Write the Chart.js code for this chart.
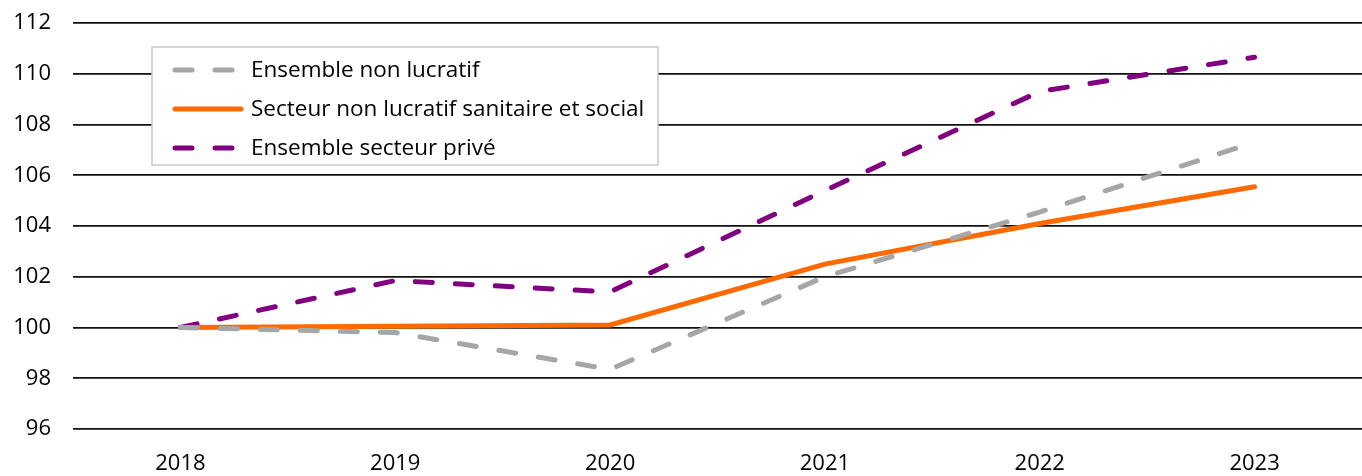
<!DOCTYPE html>
<html>
<head>
<meta charset="utf-8">
<script src="https://cdn.jsdelivr.net/npm/chart.js@4"></script>
<style>
  html, body { margin: 0; padding: 0; background: #fff; }
  #wrap { width: 1362px; height: 476px; }
</style>
</head>
<body>
<div id="wrap"><canvas id="line-chart"></canvas></div>
<script>
const years = ['2018', '2019', '2020', '2021', '2022', '2023'];
const ensembleNonLucratif = [100, 99.8, 98.35, 102.0, 104.55, 107.3];
const secteurSanitaireSocial = [100, 100.05, 100.1, 102.5, 104.1, 105.55];
const ensemblePrive = [100, 101.85, 101.4, 105.4, 109.3, 110.65];
const yTicks = [96, 98, 100, 102, 104, 106, 108, 110, 112];

const FONT = "'Open Sans', sans-serif";

// legend drawn inside the plot, like the original
const boxLegend = {
  id: 'boxLegend',
  afterDraw(chart) {
    const ctx = chart.ctx;
    const x = 152, y = 47, w = 506, h = 118;
    ctx.save();
    ctx.fillStyle = '#fff';
    ctx.fillRect(x, y, w, h);
    ctx.strokeStyle = '#c8c8c8';
    ctx.lineWidth = 1.5;
    ctx.strokeRect(x, y, w, h);
    ctx.font = '22.5px ' + FONT;
    ctx.textBaseline = 'middle';
    const rows = [70, 109, 148];
    chart.data.datasets.forEach((ds, i) => {
      const ry = rows[i];
      ctx.beginPath();
      ctx.strokeStyle = ds.borderColor;
      ctx.lineWidth = ds.borderWidth;
      ctx.lineCap = 'round';
      ctx.setLineDash(ds.borderDash || []);
      ctx.moveTo(175, ry);
      ctx.lineTo(241, ry);
      ctx.stroke();
      ctx.setLineDash([]);
      ctx.fillStyle = '#000';
      ctx.fillText(ds.label, 251, ry + 1);
    });
    ctx.restore();
  }
};

new Chart(document.getElementById('line-chart'), {
  type: 'line',
  data: {
    labels: years,
    datasets: [
      {
        label: 'Ensemble non lucratif',
        data: ensembleNonLucratif,
        borderColor: '#a6a6a6',
        borderWidth: 5,
        borderDash: [17, 23],
        borderCapStyle: 'round',
        pointRadius: 0,
        fill: false,
      },
      {
        label: 'Secteur non lucratif sanitaire et social',
        data: secteurSanitaireSocial,
        borderColor: '#ff6a00',
        borderWidth: 5,
        borderCapStyle: 'round',
        pointRadius: 0,
        fill: false,
      },
      {
        label: 'Ensemble secteur privé',
        data: ensemblePrive,
        borderColor: '#800080',
        borderWidth: 5,
        borderDash: [17, 23],
        borderCapStyle: 'round',
        pointRadius: 0,
        fill: false,
      },
    ],
  },
  options: {
    responsive: true,
    maintainAspectRatio: false,
    animation: false,
    layout: { padding: { top: 23, right: 0, left: 0, bottom: 0 } },
    plugins: {
      legend: { display: false },
      tooltip: { enabled: false },
    },
    scales: {
      x: {
        offset: true,
        grid: { display: false, drawTicks: false },
        border: { display: false },
        ticks: { color: '#000', font: { family: FONT, size: 22 }, padding: 22, maxRotation: 0 },
        afterFit: (s) => { s.height = 47; s.paddingLeft = 0; s.paddingRight = 0; },
      },
      y: {
        min: 96,
        max: 112,
        afterBuildTicks: (s) => { s.ticks = yTicks.map(v => ({ value: v })); },
        grid: { color: '#111', lineWidth: 1.8, drawTicks: false },
        border: { display: false },
        ticks: { color: '#000', font: { family: FONT, size: 22 }, padding: 22 },
        afterFit: (s) => { s.width = 73; s.paddingTop = 0; s.paddingBottom = 0; },
      },
    },
  },
  plugins: [boxLegend],
});
</script>
</body>
</html>
